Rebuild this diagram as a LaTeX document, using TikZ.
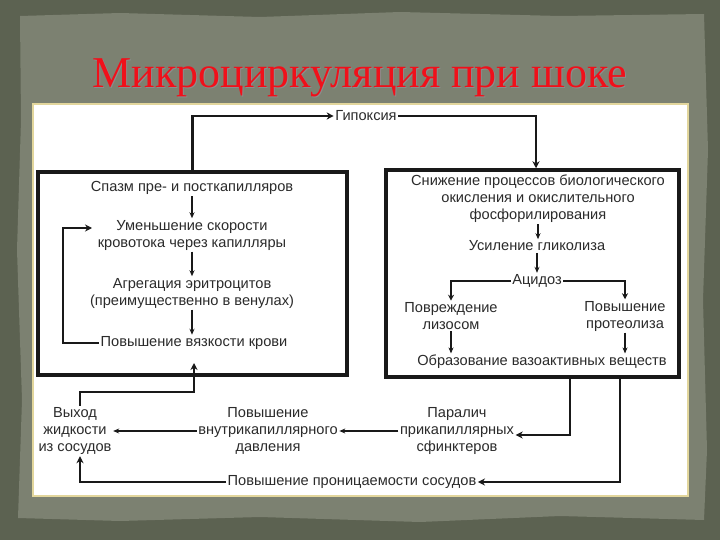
\documentclass[tikz,border=0pt]{standalone}
\usepackage{fontspec}
\setmainfont{Liberation Sans}
\newfontfamily\titlefont{Liberation Serif}
\usetikzlibrary{arrows.meta,calc}
\definecolor{frame}{HTML}{5C6251}
\definecolor{panel}{HTML}{7C8171}
\definecolor{paper}{HTML}{FFFFFF}
\definecolor{rim}{HTML}{E2D69C}
\definecolor{ink}{HTML}{2B2B2B}
\definecolor{titlered}{HTML}{F0101A}
\tikzset{
  txt/.style={text=ink, align=center, inner sep=1.5pt, font=\fontsize{14.6}{17}\selectfont},
  bigbox/.style={draw=black!90, line width=3.5pt},
  thickarr/.style={draw=black!90, line width=2.6pt, -{Stealth[length=7pt,width=7pt]}},
  thinarr/.style={draw=black!90, line width=1.3pt, -{Stealth[length=6pt,width=5pt]}},
  midarr/.style={draw=black!90, line width=1.8pt, -{Stealth[length=6pt,width=6pt]}},
}
\begin{document}
\begin{tikzpicture}[x=1pt,y=-1pt]
\useasboundingbox (0,0) rectangle (720,540);
\fill[frame] (0,0) rectangle (720,540);
\fill[panel] (20,16) -- (120,13) -- (260,17) -- (400,12) -- (560,16) -- (704,14)
  -- (708,150) -- (703,300) -- (707,450) -- (704,520) -- (560,516) -- (420,522)
  -- (260,517) -- (120,521) -- (18,518) -- (22,400) -- (17,250) -- (21,120) -- cycle;
% title
\node[text=black!45, font=\titlefont\fontsize{44}{48}\selectfont, inner sep=0pt] at (361,79) {Микроциркуляция при шоке};
\node[text=titlered, font=\titlefont\fontsize{44}{48}\selectfont, inner sep=0pt] (title) at (360,78) {Микроциркуляция при шоке};
% paper
\draw[rim, line width=2pt, fill=paper] (33,104) rectangle (688,496);
% boxes
\node[bigbox, minimum width=309pt, minimum height=203pt, inner sep=0pt] (L) at (192.5,273.5) {};
\node[bigbox, minimum width=293pt, minimum height=207pt, inner sep=0pt] (R) at (532.5,273.5) {};
% texts
\node[txt] (hyp) at (366,116) {Гипоксия};
\node[txt] (s1) at (192,188) {Спазм пре- и посткапилляров};
\node[txt] (s2) at (192,235) {Уменьшение скорости\\кровотока через капилляры};
\node[txt] (s3) at (192,293) {Агрегация эритроцитов\\(преимущественно в венулах)};
\node[txt] (s4) at (194,343) {Повышение вязкости крови};
\node[txt] (r1) at (538,198.5) {Снижение процессов биологического\\окисления и окислительного\\фосфорилирования};
\node[txt] (r2) at (537,246) {Усиление гликолиза};
\node[txt] (r3) at (537,281) {Ацидоз};
\node[txt] (r4) at (451,316) {Повреждение\\лизосом};
\node[txt] (r5) at (625,316) {Повышение\\протеолиза};
\node[txt] (r6) at (542,362) {Образование вазоактивных веществ};
\node[txt] (b1) at (457,431) {Паралич\\прикапиллярных\\сфинктеров};
\node[txt] (b2) at (268,431) {Повышение\\внутрикапиллярного\\давления};
\node[txt] (b3) at (75,431) {Выход\\жидкости\\из сосудов};
\node[txt] (b4) at (352,482) {Повышение проницаемости сосудов};
% hypoxia connectors
\draw[thickarr] (L.north) |- (hyp.west);
\draw[thickarr] (hyp.east) -| ($(R.north)+(3.5,0)$);
% left chain
\draw[thinarr] (s1.south) -- (s1.south |- s2.north);
\draw[thinarr] (s2.south) -- (s2.south |- s3.north);
\draw[thinarr] (s3.south) -- (s3.south |- s4.north);
\coordinate (lpcorner) at (63,228);
\coordinate (lpend) at (92,228);
\draw[thickarr] (s4.west) -| (lpcorner) -- (lpend);
% right chain
\draw[thinarr] (r1.south) -- (r1.south |- r2.north);
\draw[thinarr] (r2.south) -- (r2.south |- r3.north);
\draw[midarr] (r3.west) -| (r4.north);
\draw[midarr] (r3.east) -| (r5.north);
\draw[thinarr] (r4.south) -- (r4.south |- r6.north);
\draw[thinarr] (r5.south) -- (r5.south |- r6.north);
% bottom connectors
\coordinate (rb1) at (570,377);
\coordinate (rb2) at (620,377);
\draw[thickarr] (rb1) |- ($(b1.east)+(0,4)$);
\draw[thickarr] (rb2) |- (b4.east);
\draw[thinarr] (b1.west) -- (b2.east);
\draw[thinarr] (b2.west) -- (b3.east);
\draw[thickarr] (b4.west) -| ($(b3.south)+(5,0)$);
\coordinate (upend) at (194,363);
\draw[thickarr] ($(b3.north)+(5,0)$) |- (194,392) -- (upend);
\end{tikzpicture}
\end{document}
